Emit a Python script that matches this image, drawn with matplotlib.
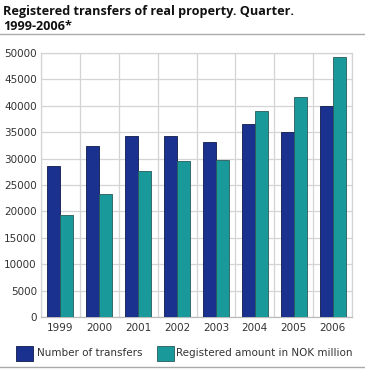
import numpy as np
import matplotlib.pyplot as plt
from matplotlib.patches import Rectangle
from matplotlib.lines import Line2D

plt.rcParams['font.family'] = ['DejaVu Sans']

years = ['1999', '2000', '2001', '2002', '2003', '2004', '2005', '2006']
transfers = [28600, 32400, 34300, 34300, 33100, 36500, 35000, 40000]
amount = [19300, 23300, 27600, 29500, 29800, 39100, 41600, 49200]
yticks = list(range(0, 50001, 5000))

blue = '#1b3190'
teal = '#19999a'

fig = plt.figure(figsize=(3.65, 3.69), dpi=100)
ax = fig.add_axes([41/365, 1-317/369, (352-41)/365, (317-53)/369])

x = np.arange(len(years))
w = 13/39
ax.bar(x - w/2, transfers, w, color=blue, edgecolor='#0d1a4a', linewidth=0.6, zorder=3)
ax.bar(x + w/2, amount, w, color=teal, edgecolor='#2a5a5a', linewidth=0.6, zorder=3)

ax.set_xlim(-0.5, len(years) - 0.5)
ax.set_ylim(0, 50000)
ax.set_yticks(yticks)
ax.set_yticklabels([str(v) for v in yticks])
ax.set_xticks(x)
ax.set_xticklabels(years)
ax.set_xticks(np.arange(len(years) + 1) - 0.5, minor=True)
ax.grid(axis='y', color='#d4d4d4', linewidth=0.9, zorder=0)
ax.grid(axis='x', which='minor', color='#d4d4d4', linewidth=0.9, zorder=0)
ax.tick_params(axis='both', which='both', length=0, labelsize=7.5, colors='#333333', pad=4)
ax.tick_params(axis='y', pad=3)
for s in ['top', 'right', 'left']:
    ax.spines[s].set_color('#d4d4d4')
    ax.spines[s].set_linewidth(0.9)
ax.spines['bottom'].set_color('#bbbbbb')
ax.spines['bottom'].set_linewidth(0.9)

tfont = ['Open Sans', 'DejaVu Sans']
fig.text(3/365, 1-15.5/369, 'Registered transfers of real property. Quarter.',
         fontsize=9.1, fontweight='bold', va='baseline', ha='left', color='#111111', family=tfont)
fig.text(3/365, 1-29.5/369, '1999-2006*',
         fontsize=9.1, fontweight='bold', va='baseline', ha='left', color='#111111', family=tfont)
fig.add_artist(Line2D([0, 1], [1-34/369, 1-34/369], color='#aaaaaa', linewidth=1.0))
fig.add_artist(Line2D([0, 1], [1-367/369, 1-367/369], color='#aaaaaa', linewidth=1.0))

fig.add_artist(Rectangle((16/365, 1-361/369), 17/365, 15/369, facecolor=blue, edgecolor='#0d1a4a', linewidth=0.6))
fig.text(37/365, 1-353/369, 'Number of transfers', fontsize=7.5, va='center', ha='left', color='#333333')
fig.add_artist(Rectangle((157/365, 1-361/369), 17/365, 15/369, facecolor=teal, edgecolor='#2a5a5a', linewidth=0.6))
fig.text(176/365, 1-353/369, 'Registered amount in NOK million', fontsize=7.5, va='center', ha='left', color='#333333')

fig.savefig('out.png', dpi=100)
